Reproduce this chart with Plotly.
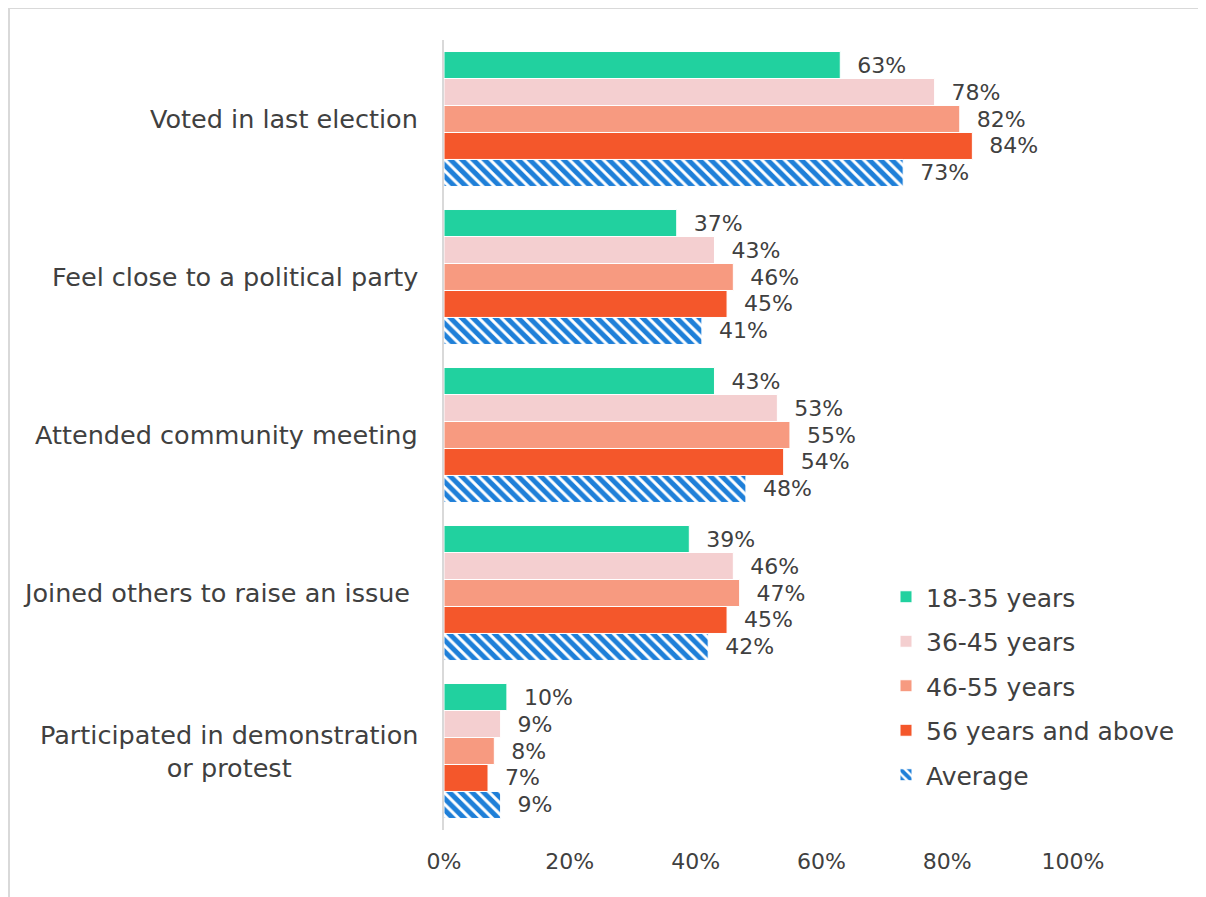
import plotly.graph_objects as go

categories = [
    "Voted in last election",
    "Feel close to a political party",
    "Attended community meeting",
    "Joined others to raise an issue ",
    "Participated in demonstration<br>or protest",
]
series_names = ["18-35 years", "36-45 years", "46-55 years", "56 years and above", "Average"]
age_18_35 = [0.63, 0.37, 0.43, 0.39, 0.10]
age_36_45 = [0.78, 0.43, 0.53, 0.46, 0.09]
age_46_55 = [0.82, 0.46, 0.55, 0.47, 0.08]
age_56_plus = [0.84, 0.45, 0.54, 0.45, 0.07]
average = [0.73, 0.41, 0.48, 0.42, 0.09]
x_ticks = [0, 0.2, 0.4, 0.6, 0.8, 1.0]
x_tick_labels = ["0%", "20%", "40%", "60%", "80%", "100%"]

series_values = [age_18_35, age_36_45, age_46_55, age_56_plus, average]
colors = ["#21D19F", "#F4CFD0", "#F79A80", "#F4572B", "#1E7FD8"]

FONT = "DejaVu Sans"
TXT = "#404040"
W, H = 1206, 897
OFF = 8  # page body offset
# plot area in screen pixels
SX0, SX1, SY0, SY1 = 444, 1073, 40, 830
ML, MT = SX0 - OFF, SY0 - OFF
PW, PH = SX1 - SX0, SY1 - SY0
MR, MB = W - ML - PW, H - MT - PH


def px_x(p):
    return (p - SX0) / PW


def px_y(p):
    return (SY1 - p) / PH


fig = go.Figure()
for name, vals, col in zip(series_names, series_values, colors):
    marker = dict(color=col, line=dict(color="white", width=1))
    if name == "Average":
        marker = dict(color="white", line=dict(color="white", width=1),
                      pattern=dict(shape="\\", fgcolor=col, bgcolor="white", size=8,
                                   solidity=0.62, fgopacity=1))
    fig.add_trace(go.Bar(
        y=categories, x=vals, name=name, orientation="h", marker=marker,
        text=["\u00a0\u00a0" + f"{v*100:.0f}%" for v in vals],
        textposition="outside", cliponaxis=False,
        textfont=dict(family=FONT, size=22, color=TXT),
        legendgroup=name,
    ))

# category labels as centered multi-line annotations
for c in categories:
    fig.add_annotation(x=px_x(420), xref="paper", y=c, yref="y", text=c,
                       showarrow=False, xanchor="right", align="center",
                       font=dict(family=FONT, size=25.5, color=TXT))

# chart frame (left and top edges)
fig.add_shape(type="line", xref="paper", yref="paper", x0=px_x(9), x1=px_x(9), y0=px_y(8), y1=px_y(OFF + H),
              line=dict(color="#d9d9d9", width=2))
fig.add_shape(type="line", xref="paper", yref="paper", x0=px_x(9), x1=px_x(OFF + W), y0=px_y(8), y1=px_y(8),
              line=dict(color="#d9d9d9", width=2))

fig.update_layout(
    width=W, height=H,
    margin=dict(l=ML, r=MR, t=MT, b=MB),
    paper_bgcolor="white", plot_bgcolor="white",
    barmode="group", bargap=0.146, bargroupgap=0,
    font=dict(family=FONT, color=TXT),
    legend=dict(x=px_x(886), y=px_y(574), xanchor="left", yanchor="top",
                font=dict(family=FONT, size=25, color=TXT), tracegroupgap=9,
                bgcolor="rgba(0,0,0,0)"),
    xaxis=dict(range=[0, 1.0], tickvals=x_ticks, ticktext=x_tick_labels, showgrid=False,
               zeroline=False, showline=False, ticks="", ticklabelstandoff=16,
               tickfont=dict(family=FONT, size=22, color=TXT)),
    yaxis=dict(autorange="reversed", showticklabels=False, showgrid=False, ticks="",
               showline=True, linecolor="#d9d9d9", linewidth=2, zeroline=False),
)

fig.write_html("out.html")
